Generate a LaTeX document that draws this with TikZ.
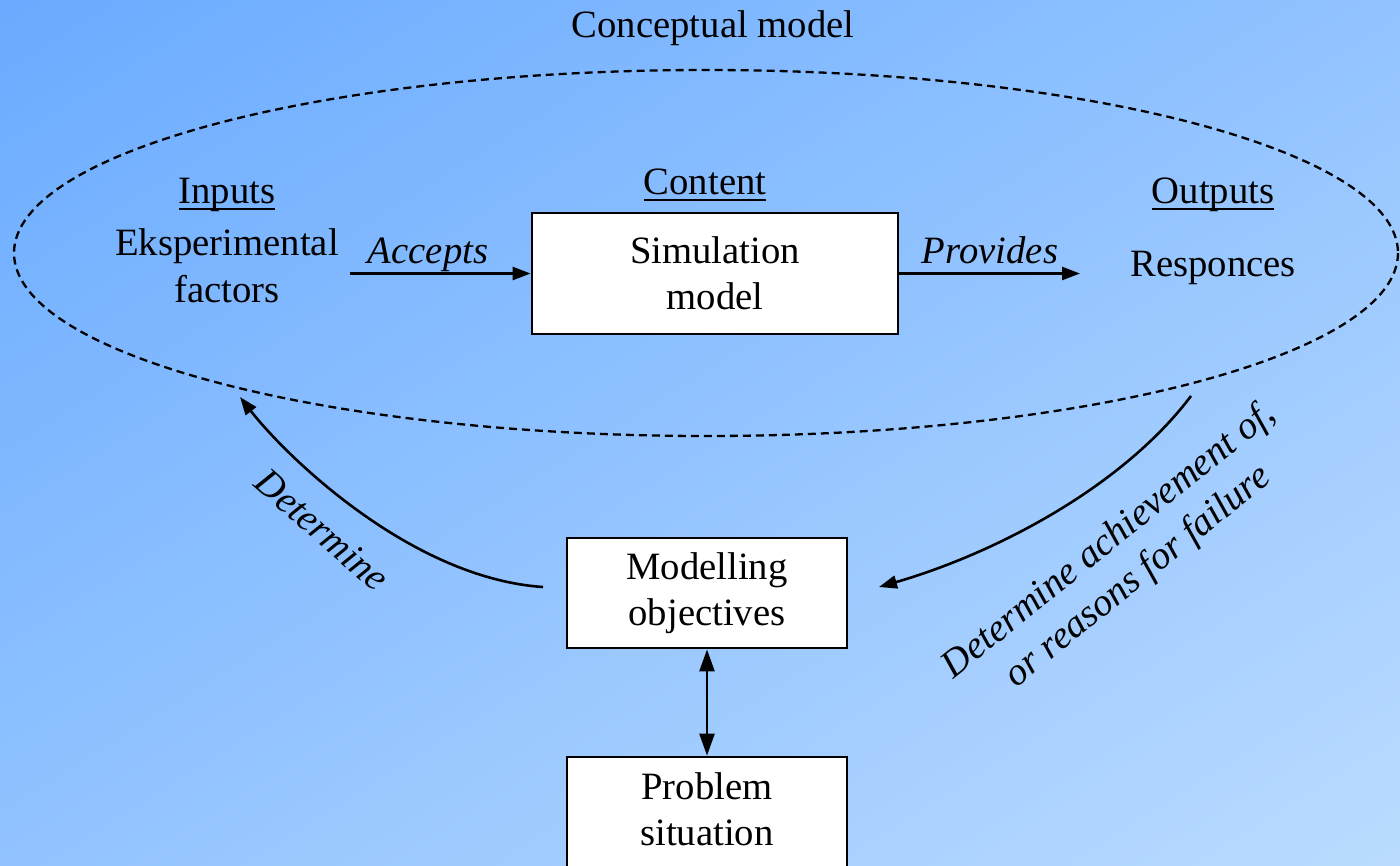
\documentclass[tikz,border=0pt]{standalone}
\usepackage{fontspec}
\setmainfont{Liberation Serif}
\usetikzlibrary{arrows.meta}
\definecolor{bgA}{RGB}{88,160,255}
\definecolor{bgB}{RGB}{204,230,255}
\pgfdeclareverticalshading{backdrop}{100bp}{color(0bp)=(bgB); color(100bp)=(bgA)}
% underline set at a fixed distance below the baseline
\newcommand{\ulined}[1]{\setbox0=\hbox{#1}\rlap{\rule[-6.5pt]{\wd0}{2pt}}\box0}

\begin{document}
\begin{tikzpicture}[x=1pt,y=-1pt,
  every node/.style={font=\fontsize{38.7}{46.5}\selectfont, inner sep=0pt},
  lbl/.style={anchor=base},
  itl/.style={font=\fontsize{38.7}{46.5}\selectfont\itshape},
  block/.style={draw, line width=2.8pt, fill=white, align=center},
  arr/.style={line width=2.6pt, -{Triangle[length=18pt,width=13pt]}},
  darr/.style={line width=2.6pt, {Triangle[length=22pt,width=15pt]}-{Triangle[length=22pt,width=15pt]}},
  frame/.style={line width=2.3pt, dash pattern=on 8pt off 5pt},
]
\useasboundingbox (0,0) rectangle (1400,865);
\clip (0,0) rectangle (1400,865);
\shade[shading=backdrop, shading angle=32] (0,0) rectangle (1400,865);

% conceptual model frame
\node[lbl] (title) at (713,37) {Conceptual model};
\draw[frame] (706,253) ellipse [x radius=692, y radius=183];

% column headings
\node[lbl] (inputs) at (227,203) {\ulined{Inputs}};
\node[lbl] (content) at (705,194) {\ulined{Content}};
\node[lbl] (outputs) at (1213,203) {\ulined{Outputs}};

% blocks
\node[block, minimum width=366pt, minimum height=121pt] (sim) at (715,273.5) {Simulation\\model};
\node[block, minimum width=280pt, minimum height=110pt] (mo) at (707,593) {Modelling\\objectives};
\node[block, minimum width=280pt, minimum height=150pt, text depth=46pt] (ps) at (707,832) {Problem\\situation};

% inputs and outputs
\node[align=center] (factors) at (227,266) {Eksperimental\\factors};
\node[lbl] (resp) at (1213,276) {Responces};

\coordinate (accS) at (350,273.5);
\draw[arr] (accS) -- (sim.west);
\node[lbl, itl] (acc) at (428,263) {Accepts};
\coordinate (provE) at (1080,273.5);
\draw[arr] (sim.east) -- (provE);
\node[lbl, itl] (prov) at (990,263) {Provides};

% objectives and problem situation
\draw[darr] (mo.south) -- (ps.north);

% feedback arcs
\coordinate (detS) at (543,587);
\coordinate (detE) at (240,397);
\draw[arr] (detS) .. controls (410,578) and (285,455) .. (detE);
\node[itl, rotate=-41] (det) at (322,530) {Determine};

\coordinate (achS) at (1191,396);
\coordinate (achE) at (879,587);
\draw[arr] (achS) .. controls (1120,490) and (990,555) .. (achE);
\node[itl, align=center, rotate=39] (ach) at (1124,559) {Determine achievement of,\\or reasons for failure};
\end{tikzpicture}
\end{document}
